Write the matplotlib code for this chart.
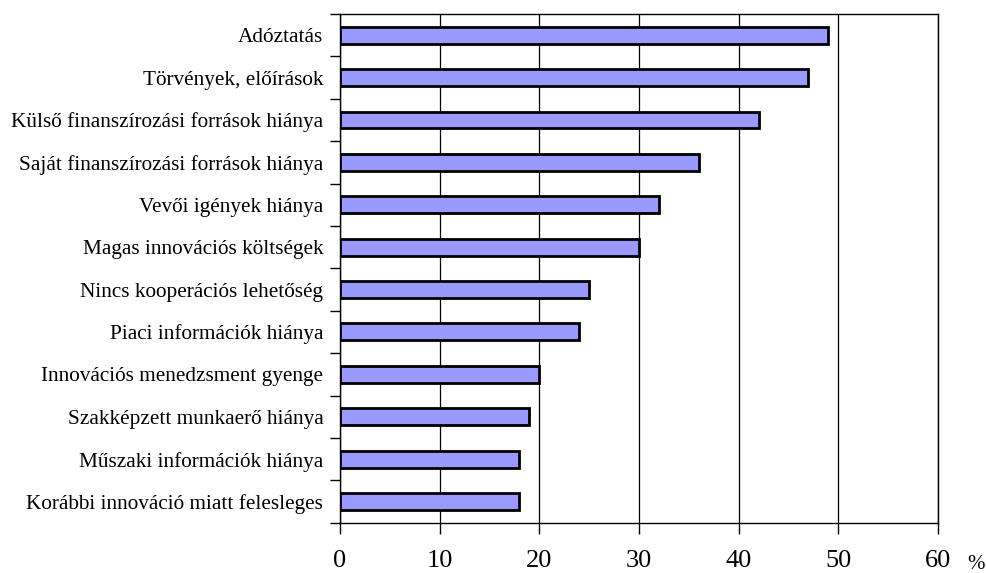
import matplotlib
matplotlib.use("Agg")
import matplotlib.pyplot as plt
import numpy as np

categories = [
    "Adóztatás",
    "Törvények, előírások",
    "Külső finanszírozási források hiánya",
    "Saját finanszírozási források hiánya",
    "Vevői igények hiánya",
    "Magas innovációs költségek",
    "Nincs kooperációs lehetőség",
    "Piaci információk hiánya",
    "Innovációs menedzsment gyenge",
    "Szakképzett munkaerő hiánya",
    "Műszaki információk hiánya",
    "Korábbi innováció miatt felesleges",
]
values = [49, 47, 42, 36, 32, 30, 25, 24, 20, 19, 18, 18]
xticks = [0, 10, 20, 30, 40, 50, 60]

plt.rcParams['font.family'] = ['Liberation Serif', 'DejaVu Serif']

fig = plt.figure(figsize=(9.87, 5.73), dpi=100)
ax = fig.add_axes([340/987, 1-522.7/573, 598/987, (522.7-14)/573])

y = np.arange(len(categories))
ax.barh(y, values, height=0.4, color="#9999FF", edgecolor="black", linewidth=2, zorder=3)

ax.set_xlim(0, 60)
ax.set_ylim(len(categories)-0.5, -0.5)
ax.set_xticks(xticks)
ax.set_xticklabels([str(t) for t in xticks], fontsize=19)
ax.tick_params(axis='x', direction='out', length=8, width=1, pad=12)

ax.set_yticks(y)
ax.set_yticklabels(categories, fontsize=15.3)
ax.tick_params(axis='y', which='major', length=0, pad=12)
ax.set_yticks(np.arange(len(categories)+1) - 0.5, minor=True)
ax.tick_params(axis='y', which='minor', direction='out', length=7, width=1)

ax.grid(axis='x', color='black', linewidth=0.9, zorder=0)
for s in ax.spines.values():
    s.set_linewidth(1)
    s.set_color('black')

fig.text(976/987, 1-569/573, "%", fontsize=15, ha='center', va='baseline')

fig.savefig("out.png", dpi=100)
